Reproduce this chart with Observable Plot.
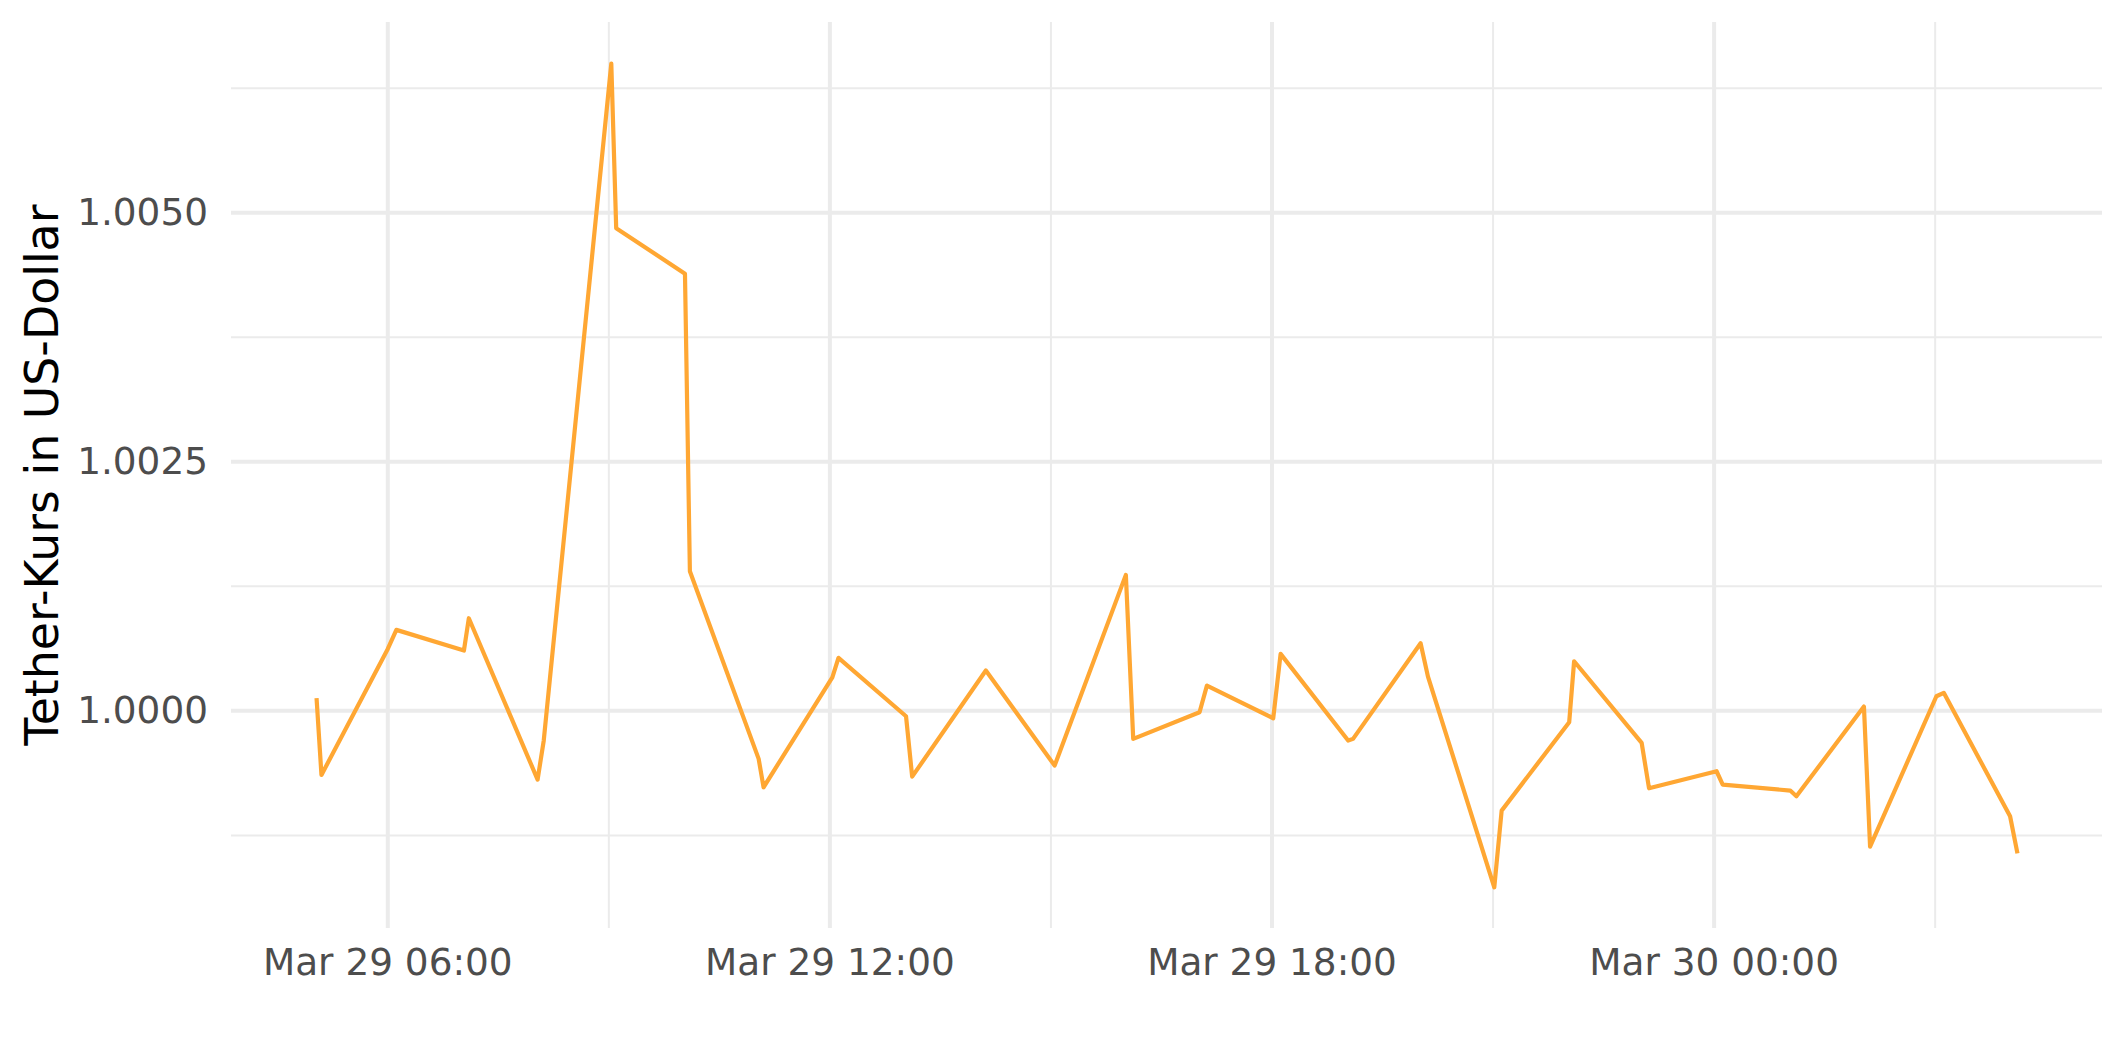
<!DOCTYPE html>
<html>
<head>
<meta charset="utf-8">
<script src="https://cdn.jsdelivr.net/npm/d3@7"></script>
<script src="https://cdn.jsdelivr.net/npm/@observablehq/plot@0.6"></script>
<style>
  html, body { margin: 0; padding: 0; background: #ffffff; }
  #chart svg { display: block; font-family: "DejaVu Sans", sans-serif; }
</style>
</head>
<body>
<div id="chart"></div>
<script>
// ---- data ----
const times = [
  "2023-03-29 05:02", "2023-03-29 05:06", "2023-03-29 06:00", "2023-03-29 06:07",
  "2023-03-29 07:02", "2023-03-29 07:06", "2023-03-29 08:02", "2023-03-29 08:07",
  "2023-03-29 09:02", "2023-03-29 09:06", "2023-03-29 10:02", "2023-03-29 10:06",
  "2023-03-29 11:02", "2023-03-29 11:06", "2023-03-29 12:02", "2023-03-29 12:07",
  "2023-03-29 13:02", "2023-03-29 13:07", "2023-03-29 14:07", "2023-03-29 15:03",
  "2023-03-29 15:07", "2023-03-29 16:01", "2023-03-29 16:07", "2023-03-29 17:01",
  "2023-03-29 17:07", "2023-03-29 18:01", "2023-03-29 18:07", "2023-03-29 19:02",
  "2023-03-29 19:06", "2023-03-29 20:01", "2023-03-29 20:07", "2023-03-29 21:01",
  "2023-03-29 21:07", "2023-03-29 22:02", "2023-03-29 22:06", "2023-03-29 23:01",
  "2023-03-29 23:07", "2023-03-30 00:02", "2023-03-30 00:07", "2023-03-30 01:02",
  "2023-03-30 01:07", "2023-03-30 02:02", "2023-03-30 02:07", "2023-03-30 03:01",
  "2023-03-30 03:07", "2023-03-30 04:01", "2023-03-30 04:07"
];
const prices = [
  1.000127, 0.999357, 1.000622, 1.000813,
  1.000605, 1.000930, 0.999310, 0.999702,
  1.006496, 1.004845, 1.004388, 1.001402,
  0.999518, 0.999233, 1.000337, 1.000532,
  0.999946, 0.999340, 1.000405, 0.999451,
  0.999581, 1.001365, 0.999719, 0.999986,
  1.000254, 0.999926, 1.000572, 0.999702,
  0.999719, 1.000679, 1.000344, 0.998229,
  0.998999, 0.999886, 1.000498, 0.999679,
  0.999223, 0.999394, 0.999260, 0.999200,
  0.999143, 1.000043, 0.998638, 1.000147,
  1.000181, 0.998942, 0.998570
];
const xMajorTicks = ["2023-03-29 06:00", "2023-03-29 12:00", "2023-03-29 18:00", "2023-03-30 00:00"];
const xMinorTicks = ["2023-03-29 09:00", "2023-03-29 15:00", "2023-03-29 21:00", "2023-03-30 03:00"];
const xTickLabels = ["Mar 29 06:00", "Mar 29 12:00", "Mar 29 18:00", "Mar 30 00:00"];
const yMajorTicks = [1.0000, 1.0025, 1.0050];
const yMinorTicks = [0.99875, 1.00125, 1.00375, 1.00625];
const yTitle = "Tether-Kurs in US-Dollar";

// ---- build ----
const parse = d3.timeParse("%Y-%m-%d %H:%M");
const data = times.map((t, i) => ({time: parse(t), price: prices[i]}));
const xMaj = xMajorTicks.map(parse);
const xMin = xMinorTicks.map(parse);
const labelMap = new Map(xMaj.map((d, i) => [+d, xTickLabels[i]]));

const xExt = d3.extent(data, d => +d.time);
const xPad = (xExt[1] - xExt[0]) * 0.05;
const yExt = d3.extent(data, d => d.price);
const yPad = (yExt[1] - yExt[0]) * 0.05;

const W = 2125, H = 1062;
const grid = "#EBEBEB";
const tickFont = 37.4;

const chart = Plot.plot({
  width: W,
  height: H,
  marginLeft: 231,
  marginRight: 23,
  marginTop: 22,
  marginBottom: 134,
  style: {fontFamily: "DejaVu Sans, sans-serif", fontSize: tickFont + "px", background: "#ffffff"},
  x: {type: "time", domain: [new Date(xExt[0] - xPad), new Date(xExt[1] + xPad)]},
  y: {domain: [yExt[0] - yPad, yExt[1] + yPad]},
  marks: [
    Plot.ruleY(yMinorTicks, {stroke: grid, strokeWidth: 2}),
    Plot.ruleX(xMin, {stroke: grid, strokeWidth: 2}),
    Plot.ruleY(yMajorTicks, {stroke: grid, strokeWidth: 4}),
    Plot.ruleX(xMaj, {stroke: grid, strokeWidth: 4}),
    Plot.line(data, {x: "time", y: "price", stroke: "#FFA733", strokeWidth: 4.2,
      strokeLinejoin: "round", strokeLinecap: "butt"}),
    Plot.axisX(xMaj, {tickSize: 0, tickPadding: 20, tickFormat: d => labelMap.get(+d),
      label: null, color: "#4D4D4D", fontSize: tickFont}),
    Plot.axisY(yMajorTicks, {tickSize: 0, tickPadding: 23.5, tickFormat: d => d.toFixed(4),
      label: null, color: "#4D4D4D", fontSize: tickFont})
  ]
});

document.getElementById("chart").appendChild(chart);

// y-axis title (rotated), centred on the panel
const svg = d3.select(chart);
svg.append("text")
  .attr("transform", `translate(58,${(22 + (H - 134)) / 2}) rotate(-90)`)
  .attr("text-anchor", "middle")
  .attr("fill", "#000000")
  .style("font-family", "DejaVu Sans, sans-serif")
  .style("font-size", "45.8px")
  .text(yTitle);
</script>
</body>
</html>
